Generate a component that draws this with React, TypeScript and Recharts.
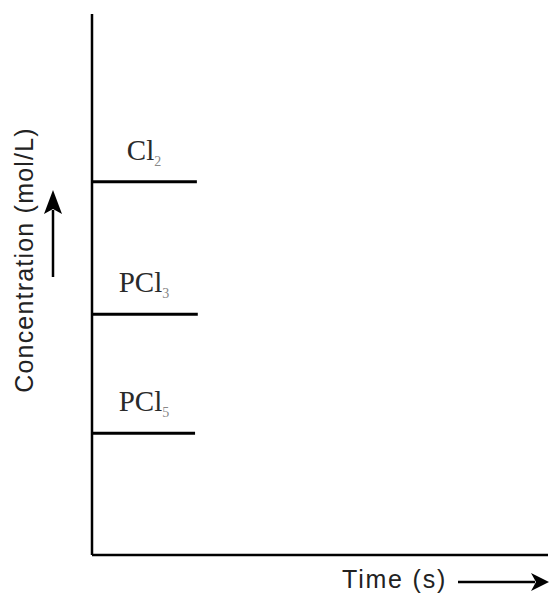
import { LineChart, Line, XAxis, YAxis } from 'recharts';

// species shown on the chart (formula + subscript)
const speciesNames = ['Cl', 'PCl', 'PCl'];
const speciesSubs = ['2', '3', '5'];
// equilibrium concentrations (arbitrary units, 0-10 scale)
const concentrations = [6.9, 4.45, 2.25];
// how long each segment runs along the time axis
const startTimes = [0, 0, 0];
const endTimes = [2.3, 2.32, 2.26];

const timeDomain = [0, 10];
const concDomain = [0, 10];

const series = speciesNames.map((name, i) => ({
  key: name + speciesSubs[i],
  name,
  sub: speciesSubs[i],
  data: [
    { t: startTimes[i], c: concentrations[i] },
    { t: endTimes[i], c: concentrations[i] },
  ],
}));

function makeLabel(name: string, sub: string) {
  return (props: any) => {
    const { x, y, index } = props;
    if (index !== 0) return null;
    return (
      <text
        key={name + sub}
        x={x + 52}
        y={y - 22}
        textAnchor="middle"
        fontFamily="'Liberation Serif', 'Times New Roman', serif"
        fontSize={29}
        fill="#2a2a2a"
      >
        {name}
        <tspan fontSize={14} dy={6} fill="#888">
          {sub}
        </tspan>
      </text>
    );
  };
}

export default function App() {
  const sans = "'Liberation Sans', Arial, sans-serif";
  return (
    <div style={{ position: 'relative', width: 549, height: 594, background: '#fff' }}>
      <style>{'body{margin:0}'}</style>
      <LineChart
        width={549}
        height={594}
        margin={{ top: 14, right: 1, bottom: 38, left: 91 }}
      >
        <XAxis
          type="number"
          dataKey="t"
          domain={timeDomain}
          height={1}
          tick={false}
          tickLine={false}
          axisLine={{ stroke: '#000', strokeWidth: 2.5 }}
        />
        <YAxis
          type="number"
          dataKey="c"
          domain={concDomain}
          width={1}
          tick={false}
          tickLine={false}
          axisLine={{ stroke: '#000', strokeWidth: 2.5 }}
        />
        {series.map((s) => (
          <Line
            key={s.key}
            data={s.data}
            dataKey="c"
            type="linear"
            stroke="#000"
            strokeWidth={3}
            dot={false}
            activeDot={false}
            isAnimationActive={false}
            label={makeLabel(s.name, s.sub)}
          />
        ))}
      </LineChart>
      <svg
        width={549}
        height={594}
        style={{ position: 'absolute', left: 0, top: 0, pointerEvents: 'none' }}
      >
        <text
          x={33}
          y={260}
          transform="rotate(-90 33 260)"
          textAnchor="middle"
          fontFamily={sans}
          fontSize={25}
          letterSpacing={1.2}
          fill="#222"
        >
          Concentration (mol/L)
        </text>
        <line x1={53} y1={277} x2={53} y2={210} stroke="#000" strokeWidth={2.5} />
        <polygon points="53,190 44,214 53,209 62,214" fill="#000" />
        <text
          x={342}
          y={588}
          fontFamily={sans}
          fontSize={25}
          letterSpacing={1.8}
          fill="#222"
        >
          Time (s)
        </text>
        <line x1={458} y1={582} x2={535} y2={582} stroke="#000" strokeWidth={2.5} />
        <polygon points="549,582 531,573 536,582 531,591" fill="#000" />
      </svg>
    </div>
  );
}
